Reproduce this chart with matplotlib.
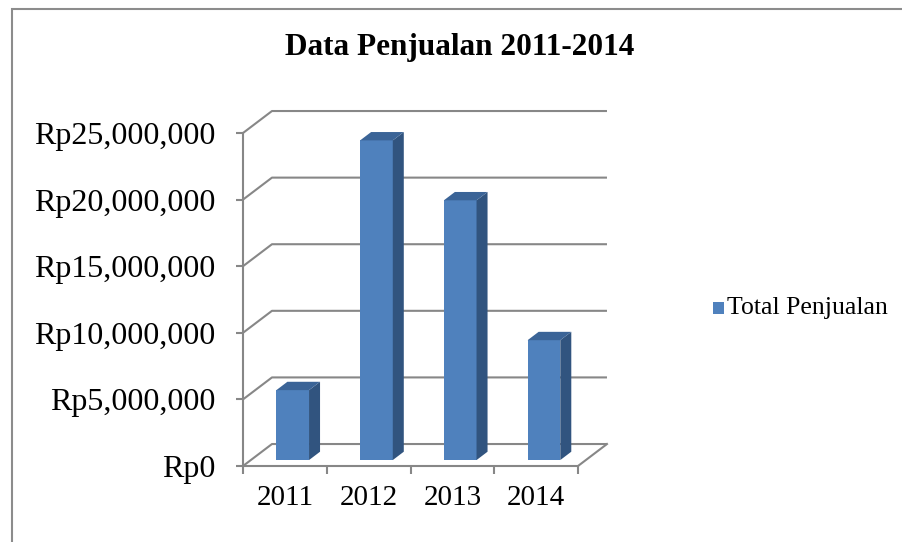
import matplotlib
matplotlib.use('Agg')
import matplotlib.pyplot as plt
from matplotlib.patches import Polygon, Rectangle

# Data
years = ['2011', '2012', '2013', '2014']
total_penjualan = [5250000, 24000000, 19500000, 9000000]
y_ticks = [0, 5000000, 10000000, 15000000, 20000000, 25000000]
y_max = 25000000

W, H = 902, 542
fig = plt.figure(figsize=(W / 100, H / 100), dpi=100)
plt.rcParams['font.family'] = ['Liberation Serif', 'DejaVu Serif']

# figure frame
fig.patches.append(Rectangle((12 / W, -0.1), 1.0, 1.1 - 9 / H, transform=fig.transFigure,
                             fill=False, edgecolor='#8c8c8c', lw=1.5))

# front plane of the plot area (pixels 243..578 x, 466..133 y)
ax = fig.add_axes([243 / W, (H - 466) / H, (578 - 243) / W, (466 - 133) / H])
n = len(years)
ax.set_xlim(0, n)
ax.set_ylim(0, y_max)
ax.patch.set_visible(False)

# depth offset of the back wall in data units
dx = 0.346
dy = 1650000
grid_col = '#878787'
lw = 1.5

for v in y_ticks:
    ax.plot([0, dx, n + dx], [v, v + dy, v + dy], color=grid_col, lw=lw,
            clip_on=False, zorder=1, solid_capstyle='butt')
# floor right edge
ax.plot([n, n + dx], [0, dy], color=grid_col, lw=lw, clip_on=False, zorder=1)

for s in ['top', 'right']:
    ax.spines[s].set_visible(False)
for s in ['left', 'bottom']:
    ax.spines[s].set_color(grid_col)
    ax.spines[s].set_linewidth(lw)

ax.set_yticks(y_ticks)
ax.set_yticklabels([f'Rp{v:,.0f}' for v in y_ticks], fontsize=23)
ax.set_xticks(range(n + 1))
ax.set_xticklabels([])
ax.set_xticks([i + 0.5 for i in range(n)], minor=True)
ax.set_xticklabels(years, minor=True, fontsize=21)
ax.tick_params(axis='y', length=5, width=lw, color=grid_col, pad=15)
ax.tick_params(axis='x', which='major', length=6, width=lw, color=grid_col)
ax.tick_params(axis='x', which='minor', length=0, pad=14)

# 3D columns
front = '#4F81BD'
side = '#31547F'
top = '#3B6497'
bw = 0.39
d0, d1 = 0.27, 0.65
for i, v in enumerate(total_penjualan):
    x0 = i + 0.5 - bw / 2 + d0 * dx
    x1 = x0 + bw
    yb = d0 * dy
    yt = v + d0 * dy
    ddx = (d1 - d0) * dx
    ddy = (d1 - d0) * dy
    ax.add_patch(Polygon([(x0, yb), (x1, yb), (x1, yt), (x0, yt)],
                         closed=True, facecolor=front, edgecolor='none', zorder=3, clip_on=False))
    ax.add_patch(Polygon([(x1, yb), (x1 + ddx, yb + ddy), (x1 + ddx, yt + ddy), (x1, yt)],
                         closed=True, facecolor=side, edgecolor='none', zorder=3, clip_on=False))
    ax.add_patch(Polygon([(x0, yt), (x1, yt), (x1 + ddx, yt + ddy), (x0 + ddx, yt + ddy)],
                         closed=True, facecolor=top, edgecolor='none', zorder=3, clip_on=False))

# title
fig.text(460 / W, 1 - 48 / H, 'Data Penjualan 2011-2014', ha='center', va='center',
         fontsize=22.5, fontweight='bold')

# legend
fig.patches.append(Rectangle((713 / W, 1 - 314 / H), 11 / W, 12 / H, transform=fig.transFigure,
                             facecolor=front, edgecolor='none'))
fig.text(727 / W, 1 - 308 / H, 'Total Penjualan', ha='left', va='center', fontsize=18.5)

fig.savefig('out.png', dpi=100)
